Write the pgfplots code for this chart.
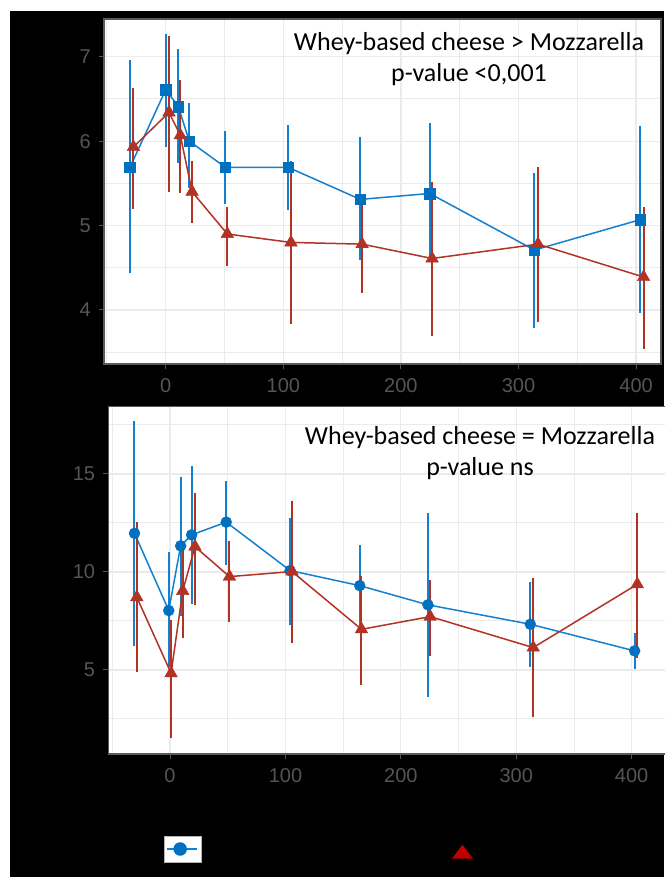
\documentclass[border=0pt]{standalone}
\usepackage{pgfplots}
\pgfplotsset{compat=1.18}
\usepackage{fontspec}
\setmainfont{Liberation Sans}
\newfontfamily\calibri{Carlito}
\definecolor{cblue}{RGB}{0,112,192}
\definecolor{lblue}{RGB}{20,128,208}
\definecolor{cred}{RGB}{178,50,36}
\definecolor{lred}{RGB}{192,0,0}
\definecolor{tickgrey}{RGB}{85,85,85}
\definecolor{framegrey}{RGB}{90,90,90}
\definecolor{gridgrey}{RGB}{235,235,235}

\pgfplotsset{
 panel/.style={
  scale only axis, anchor=south west,
  axis background/.style={fill=white},
  axis line style={draw=framegrey, line width=1.2pt},
  grid=both,
  major grid style={draw=gridgrey, line width=1.2pt},
  minor grid style={draw=gridgrey, line width=0.9pt},
  tick align=outside, tick pos=left, major tick length=5pt, minor tick length=0pt,
  tick style={draw=tickgrey, line width=1pt},
  ticklabel style={font=\fontsize{20}{24}\selectfont, text=tickgrey, inner sep=0pt},
  xticklabel style={yshift=-9pt},
  yticklabel={\pgfmathprintnumber{\tick}\hspace*{8pt}},
  /pgf/number format/assume math mode=true,
  xtick={0,100,200,300,400}, minor xtick={-50,50,150,250,350},
 },
 eb/.style={/pgfplots/error bars/y dir=both, /pgfplots/error bars/y explicit,
   /pgfplots/error bars/error mark=none,
   /pgfplots/error bars/error bar style={line width=2pt, solid}},
 bl/.style={lblue, line width=1.5pt, mark options={fill=cblue, draw=cblue, line width=0.4pt}},
 rd/.style={cred, line width=1.5pt, mark=triangle*, mark size=7.3pt,
   mark options={fill=cred, draw=cred, line width=0.4pt}},
}

\pgfplotstableread{
x y ep em
-30.4 5.69 1.27 1.25
0 6.61 0.66 0.68
10.7 6.41 0.68 0.67
20 6.00 0.45 0.56
50.7 5.69 0.43 0.43
104 5.69 0.50 0.51
165.5 5.31 0.74 0.72
224.5 5.38 0.83 0.76
313.5 4.71 0.91 0.92
403.6 5.07 1.11 1.11
}\topblue
\pgfplotstableread{
x y ep em
-27.5 5.93 0.70 0.73
2.8 6.34 0.91 0.94
12.4 6.07 0.66 0.68
22.4 5.40 0.36 0.37
52.4 4.90 0.32 0.38
106.5 4.80 0.96 0.97
167 4.78 0.56 0.58
226.5 4.61 0.91 0.92
316.6 4.78 0.91 0.92
406.4 4.39 0.83 0.85
}\topred
\pgfplotstableread{
x y ep em
-30.8 11.97 5.73 5.75
-1.1 8.03 2.97 2.86
9.2 11.33 3.50 3.56
18.7 11.89 3.52 3.54
48.7 12.54 2.12 2.18
104 10.07 2.69 2.77
164.4 9.30 2.06 2.09
223.5 8.32 4.71 4.68
312.2 7.33 2.14 2.16
402.6 5.97 0.90 0.92
}\botblue
\pgfplotstableread{
x y ep em
-28.8 8.71 3.83 3.83
0.9 4.83 2.72 3.32
11 9.03 2.26 2.38
21.6 11.29 2.76 2.97
51.5 9.76 1.84 2.34
105.7 10.02 3.60 3.65
165.9 7.07 2.74 2.84
225.4 7.72 1.87 2.01
314.7 6.14 3.54 3.55
404.9 9.37 3.62 3.77
}\botred

\begin{document}
\begin{tikzpicture}
\useasboundingbox (0pt,0pt) rectangle (664pt,877pt);
\fill[white] (0pt,0pt) rectangle (664pt,877pt);
\fill[black] (10pt,0pt) rectangle (664pt,866pt);

% top panel
\begin{axis}[panel, at={(104pt,513pt)}, width=557pt, height=345pt,
  xmin=-52.5, xmax=421.2, ymin=3.36, ymax=7.447,
  ytick={4,5,6,7}, minor ytick={3.5,4.5,5.5,6.5},
  legend style={at={(axis description cs:0.1427,-1.4058)}, anchor=center,
    draw=none, fill=none, inner sep=0pt, nodes={inner sep=0pt},
    /tikz/every even column/.append style={column sep=0pt}},
  ]
\addplot[bl, mark=square*, mark size=5.3pt,
  legend image code/.code={
    \draw[fill=white, draw=gray!60, line width=0.8pt] (0pt,-13pt) rectangle (37pt,13pt);
    \draw[lblue, line width=1.5pt] (3pt,0pt) -- (33pt,0pt);
    \draw[only marks, mark=*, mark size=6pt, mark options={fill=cblue, draw=cblue}] plot coordinates {(15.7pt,0pt)};
  }, eb] table[x=x, y=y, y error plus=ep, y error minus=em] {\topblue};
\addlegendentry{}
\addplot[rd, forget plot, eb] table[x=x, y=y, y error plus=ep, y error minus=em] {\topred};
\end{axis}

% bottom panel
\begin{axis}[panel, at={(108.3pt,123pt)}, width=557.5pt, height=347.5pt,
  xmin=-53.5, xmax=429.6, ymin=0.71, ymax=18.44,
  ytick={5,10,15}, minor ytick={2.5,7.5,12.5,17.5},
  legend style={at={(axis description cs:0.6362,-0.282)}, anchor=center,
    draw=none, fill=none, inner sep=0pt, nodes={inner sep=0pt},
    /tikz/every even column/.append style={column sep=0pt}},
  ]
\addplot[bl, mark=*, mark size=5.5pt, forget plot, eb] table[x=x, y=y, y error plus=ep, y error minus=em] {\botblue};
\addplot[rd,
  legend image code/.code={
    \draw[only marks, mark=triangle*, mark size=8pt, mark options={fill=lred, draw=lred, xscale=1.3}] plot coordinates {(0pt,0pt)};
  }, eb] table[x=x, y=y, y error plus=ep, y error minus=em] {\botred};
\addlegendentry{}
\end{axis}

\node[anchor=base] at (469pt,826pt) {\calibri\fontsize{26}{30}\selectfont Whey-based cheese > Mozzarella};
\node[anchor=base] at (469pt,795.5pt) {\calibri\fontsize{26}{30}\selectfont p-value <0,001};
\node[anchor=base] at (480pt,432pt) {\calibri\fontsize{26}{30}\selectfont Whey-based cheese = Mozzarella};
\node[anchor=base] at (480pt,401pt) {\calibri\fontsize{26}{30}\selectfont p-value ns};
\end{tikzpicture}
\end{document}
